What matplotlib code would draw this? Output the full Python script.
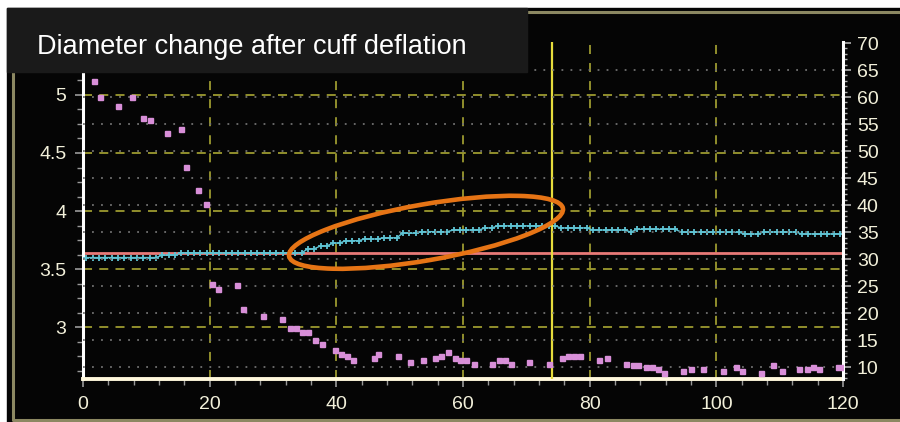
import numpy as np
import matplotlib
matplotlib.use("Agg")
import matplotlib.pyplot as plt
from matplotlib.patches import Ellipse, Rectangle

# diametre (axe gauche), un point par seconde
diam_t = np.arange(0.5, 120, 1.0)
diam_mm = [
    3.60, 3.60, 3.60, 3.60, 3.60, 3.60, 3.60, 3.60, 3.60, 3.60,
    3.60, 3.60, 3.62, 3.62, 3.62, 3.64, 3.64, 3.64, 3.64, 3.64,
    3.64, 3.64, 3.64, 3.64, 3.64, 3.64, 3.64, 3.64, 3.64, 3.64,
    3.64, 3.64, 3.64, 3.64, 3.64, 3.675, 3.675, 3.70, 3.70, 3.725,
    3.725, 3.745, 3.745, 3.745, 3.76, 3.76, 3.76, 3.77, 3.77, 3.77,
    3.81, 3.81, 3.81, 3.823, 3.823, 3.823, 3.823, 3.823, 3.837, 3.837,
    3.837, 3.837, 3.837, 3.855, 3.855, 3.873, 3.873, 3.873, 3.873, 3.873,
    3.873, 3.873, 3.873, 3.873, 3.873, 3.855, 3.855, 3.855, 3.855, 3.855,
    3.837, 3.837, 3.837, 3.837, 3.837, 3.837, 3.82, 3.843, 3.843, 3.843,
    3.843, 3.843, 3.843, 3.843, 3.818, 3.818, 3.818, 3.818, 3.818, 3.818,
    3.818, 3.818, 3.818, 3.818, 3.803, 3.803, 3.803, 3.82, 3.82, 3.82,
    3.82, 3.82, 3.82, 3.803, 3.803, 3.803, 3.803, 3.803, 3.803, 3.803,
]
baseline_mm = 3.64
marker_t = 74

# vitesse du flux (axe droit)
flow_t = [1.8, 2.75, 5.5, 7.7, 9.5, 10.5, 13.2, 15.4, 16.3, 18.2,
          19.4, 20.3, 21.3, 24.3, 25.3, 28.35, 31.45, 32.7, 33.7, 34.6,
          35.5, 36.7, 37.7, 39.8, 40.8, 41.7, 42.6, 46.0, 46.6, 49.7,
          51.6, 53.7, 55.6, 56.5, 57.7, 58.7, 59.6, 60.5, 61.7, 64.5,
          65.7, 66.7, 67.6, 70.4, 73.5, 75.65, 76.6, 77.5, 78.4, 81.5,
          82.8, 85.8, 86.8, 87.7, 88.9, 89.9, 90.8, 91.7, 94.8, 96.0,
          97.9, 101.0, 103.1, 104.1, 107.1, 109.0, 110.3, 113.05, 114.25, 115.2,
          116.15, 119.2, 120.0]
flow_v = [63.0, 60.1, 58.3, 60.1, 56.2, 55.8, 53.3, 54.0, 47.1, 42.8,
          40.3, 25.5, 24.4, 25.2, 20.8, 19.4, 19.0, 17.2, 17.2, 16.5,
          16.5, 15.05, 14.3, 13.2, 12.5, 12.1, 11.4, 11.8, 12.5, 12.1,
          11.0, 11.4, 11.8, 12.1, 12.9, 11.8, 11.4, 11.4, 10.7, 10.7,
          11.4, 11.4, 10.7, 11.0, 10.7, 11.8, 12.1, 12.1, 12.1, 11.4,
          11.8, 10.7, 10.4, 10.4, 10.0, 10.0, 9.6, 8.9, 9.3, 9.6,
          9.6, 9.3, 10.0, 9.3, 8.9, 10.4, 9.3, 9.6, 9.6, 10.0,
          9.6, 10.0, 10.0]

x_ticks = [0, 20, 40, 60, 80, 100, 120]
left_ticks = [3, 3.5, 4, 4.5, 5]
left_labels = ["3", "3.5", "4", "4.5", "5"]
right_ticks = [10, 15, 20, 25, 30, 35, 40, 45, 50, 55, 60, 65, 70]
title = "Diameter change after cuff deflation"

W, H = 900, 422
fig = plt.figure(figsize=(W / 100, H / 100), dpi=100)
fig.patch.set_facecolor("white")

# fond noir + cadre olive
bg = fig.add_axes([0, 0, 1, 1], zorder=0)
bg.set_xlim(0, W)
bg.set_ylim(H, 0)
bg.axis("off")
bg.add_patch(Rectangle((7, 8), W - 7, H - 8, color="#050505"))
bg.plot([13, 13, W], [12, 420, 420], color="#8C8862", lw=2.2)
bg.plot([520, W], [12, 12], color="#8C8862", lw=2.2)

tick_col = "#F2F0DA"
grid_olive = "#9C9A30"
grid_dot = "#707070"

ax = fig.add_axes([83 / W, 1 - 379 / H, (843 - 83) / W, (379 - 42) / H], zorder=1)
ax.set_facecolor("#050505")
ax.set_xlim(0, 120)
ax.set_ylim(2.555, 5.455)

for v in left_ticks:
    ax.axhline(v, color=grid_olive, lw=1.3, ls=(0, (5, 4)), zorder=1)
for v in x_ticks[1:-1]:
    ax.axvline(v, color=grid_olive, lw=1.3, ls=(0, (5, 5)), zorder=1)

ax.axhline(baseline_mm, color="#E87A78", lw=2, zorder=2)
ax.plot(diam_t, diam_mm, color="#5FC3D3", lw=1, marker="+", ms=5, mew=1.3, zorder=3)
ax.axvline(marker_t, color="#E6DC3C", lw=1.6, zorder=4)

ax.set_xticks(x_ticks)
ax.set_xticks(np.arange(0, 121, 4), minor=True)
ax.set_yticks(left_ticks)
ax.set_yticklabels(left_labels)
ax.set_yticks(np.arange(2.625, 5.4, 0.125), minor=True)
ax.tick_params(axis="both", which="major", colors="#9A9A9A", labelcolor=tick_col,
               labelsize=14, length=6, width=1.2)
ax.tick_params(axis="both", which="minor", colors="#9A9A9A", length=4, width=1)
ax.tick_params(axis="y", pad=6)
ax.tick_params(axis="x", pad=6)
for lab in ax.get_xticklabels() + ax.get_yticklabels():
    lab.set_family("Liberation Sans")

ax.spines["top"].set_visible(False)
ax.spines["right"].set_visible(False)
ax.spines["left"].set_color("white")
ax.spines["left"].set_linewidth(2.2)
ax.spines["bottom"].set_color("#FFF8DC")
ax.spines["bottom"].set_linewidth(2.8)

ax2 = ax.twinx()
ax2.set_zorder(2)
ax2.patch.set_visible(False)
ax2.set_ylim(7.835, 70.19)
for v in right_ticks[:-1]:
    ax2.axhline(v, color=grid_dot, lw=1.3, ls=(0, (1, 4)), zorder=1)
ax2.plot(flow_t, flow_v, ls="none", marker="s", ms=3.6, color="#D88FD8", zorder=3)
ax2.set_yticks(right_ticks)
ax2.set_yticks(np.arange(8, 71, 1), minor=True)
ax2.tick_params(axis="y", which="major", colors="#B0B0B0", labelcolor=tick_col,
                labelsize=14, length=6, width=1.2, pad=4)
ax2.tick_params(axis="y", which="minor", colors="#B0B0B0", length=3, width=1)
for lab in ax2.get_yticklabels():
    lab.set_family("Liberation Sans")
for s in ["top", "left", "bottom"]:
    ax2.spines[s].set_visible(False)
ax2.spines["right"].set_color("white")
ax2.spines["right"].set_linewidth(2.2)

# titre et ellipse d'annotation
fg = fig.add_axes([0, 0, 1, 1], zorder=3)
fg.set_xlim(0, W)
fg.set_ylim(H, 0)
fg.axis("off")
fg.patch.set_visible(False)
fg.add_patch(Rectangle((7, 8), 520, 64, color="#1A1A1A"))
fg.text(37, 54, title, color="white", fontsize=19.5, family="Liberation Sans",
        va="baseline", ha="left")
fg.add_patch(Ellipse((426, 232.3), 278, 56, angle=-9.9, fill=False,
                     ec="#E67415", lw=3.3))

fig.savefig("out.png", dpi=100, facecolor=fig.get_facecolor())
